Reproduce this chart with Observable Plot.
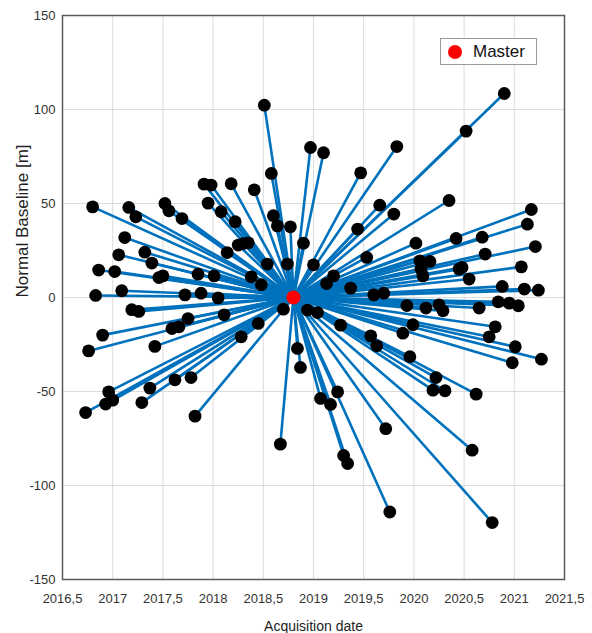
<!DOCTYPE html>
<html>
<head>
<meta charset="utf-8">
<script src="https://cdn.jsdelivr.net/npm/d3@7"></script>
<script src="https://cdn.jsdelivr.net/npm/@observablehq/plot@0.6"></script>
<style>
  html, body { margin: 0; padding: 0; background: #fff; }
  #wrap { position: relative; width: 592px; height: 633px; font-family: "Liberation Sans", Arial, sans-serif; }
  #legend { position: absolute; left: 440px; top: 38px; width: 97px; height: 27px; border: 1px solid #9a9a9a; background: #fff; box-sizing: border-box; }
  #legend .sw { position: absolute; left: 7px; top: 6px; width: 14px; height: 14px; border-radius: 50%; background: #ff0000; }
  #legend .tx { position: absolute; left: 32px; top: 3px; font-size: 17px; color: #111; line-height: 20px; }
</style>
</head>
<body>
<div id="wrap"><div id="legend"><span class="sw"></span><span class="tx">Master</span></div></div>
<script>
// Acquisition dates (decimal years) of slave images
const dates = [
  2016.80, 2017.16, 2017.23, 2017.52, 2017.56, 2017.69, 2017.91, 2017.98, 2017.95, 2018.08,
  2018.18, 2018.22, 2018.41, 2018.51, 2018.58, 2018.60, 2018.64, 2018.77, 2018.25, 2018.30,
  2018.35, 2018.14, 2018.54, 2018.74, 2018.38, 2018.48, 2017.12, 2017.06, 2017.32, 2017.39,
  2016.86, 2017.02, 2017.46, 2017.50, 2017.85, 2018.01, 2016.83, 2017.09, 2017.72, 2017.88,
  2018.05, 2018.70,
  2020.90, 2020.52, 2018.97, 2019.10, 2019.83, 2019.47, 2020.35, 2019.66, 2019.80, 2019.44,
  2021.17, 2021.13, 2021.21, 2020.68, 2020.42, 2020.02, 2020.71, 2021.07, 2018.90, 2019.53,
  2019.00, 2020.06, 2020.16, 2020.07, 2020.09, 2020.45, 2020.48, 2020.55, 2019.20, 2019.13,
  2019.37, 2019.60, 2019.70, 2020.88, 2021.10, 2021.24, 2019.93, 2020.12, 2020.25, 2020.29,
  2020.65, 2020.84, 2020.95, 2021.04, 2018.94, 2019.04,
  2017.19, 2017.26, 2017.75, 2018.11, 2016.90, 2017.59, 2017.66, 2018.45, 2018.28, 2016.76,
  2017.42, 2017.37, 2017.62, 2017.78, 2016.96, 2016.93, 2017.00, 2017.29, 2016.73, 2017.82,
  2018.67,
  2019.27, 2018.84, 2018.87, 2019.57, 2019.63, 2019.89, 2019.99, 2019.96, 2020.81, 2020.75,
  2021.01, 2021.27, 2020.98, 2020.22, 2020.19, 2020.31, 2020.62, 2019.24, 2019.07, 2019.17,
  2019.72, 2019.30, 2019.34, 2020.58, 2019.76, 2020.78
];
// Normal baselines [m] of slave images
const baselines = [
  48.2, 47.9, 42.9, 50.0, 46.1, 42.0, 60.3, 59.8, 50.2, 45.6,
  60.5, 40.3, 57.3, 102.3, 66.0, 43.5, 38.1, 37.6, 27.9, 28.7,
  29.1, 23.9, 17.8, 17.8, 11.0, 6.8, 31.9, 22.7, 24.1, 18.3,
  14.6, 13.8, 10.6, 11.5, 12.4, 11.5, 1.1, 3.6, 1.4, 2.3,
  -0.2, -6.2,
  108.5, 88.5, 79.8, 77.0, 80.3, 66.3, 51.6, 49.1, 44.4, 36.4,
  46.8, 39.0, 27.1, 32.1, 31.4, 28.9, 23.1, 16.3, 28.9, 21.3,
  17.4, 19.5, 19.2, 15.1, 11.5, 15.1, 16.0, 9.8, 11.5, 7.4,
  5.0, 1.4, 2.3, 5.9, 4.5, 3.9, -4.3, -5.6, -3.9, -7.1,
  -5.6, -2.3, -3.0, -4.4, -6.7, -8.0,
  -6.5, -7.4, -11.2, -9.2, -20.0, -16.5, -15.6, -13.8, -20.9, -28.4,
  -26.0, -48.2, -43.8, -42.6, -50.2, -56.7, -54.6, -55.9, -61.2, -63.1,
  -78.0,
  -14.7, -27.1, -37.2, -20.4, -25.7, -19.0, -14.5, -31.5, -15.6, -20.9,
  -26.2, -32.8, -34.7, -42.6, -49.3, -49.6, -51.4, -50.2, -53.7, -56.9,
  -69.8, -84.0, -88.3, -81.2, -114.1, -119.7
];
const masterDate = 2018.80;
const masterBaseline = 0;
const xTicks = [2016.5, 2017, 2017.5, 2018, 2018.5, 2019, 2019.5, 2020, 2020.5, 2021, 2021.5];
const yTicks = [-150, -100, -50, 0, 50, 100, 150];
const xLabel = "Acquisition date";
const yLabel = "Normal Baseline [m]";

const slaves = dates.map((d, i) => ({date: d, baseline: baselines[i]}));
const master = [{date: masterDate, baseline: masterBaseline}];

const chart = Plot.plot({
  width: 592,
  height: 633,
  marginLeft: 62,
  marginRight: 28,
  marginTop: 15,
  marginBottom: 54,
  style: {fontFamily: "Liberation Sans, Arial, sans-serif", fontSize: "13px", color: "#333", background: "#fff"},
  x: {domain: [2016.5, 2021.5]},
  y: {domain: [-150, 150]},
  marks: [
    Plot.gridX(xTicks, {stroke: "#dcdcdc", strokeOpacity: 1, strokeWidth: 1}),
    Plot.gridY(yTicks, {stroke: "#dcdcdc", strokeOpacity: 1, strokeWidth: 1}),
    Plot.link(slaves, {x1: () => masterDate, y1: () => masterBaseline, x2: "date", y2: "baseline", stroke: "#0072BD", strokeWidth: 2.6}),
    Plot.dot(slaves, {x: "date", y: "baseline", r: 6.4, fill: "#000", stroke: "none"}),
    Plot.dot(master, {x: "date", y: "baseline", r: 7, fill: "#ff0000", stroke: "none"}),
    Plot.frame({stroke: "#5a5a5a", strokeWidth: 1.5}),
    Plot.axisX({ticks: xTicks, tickFormat: d => String(d).replace(".", ","), tickSize: 0, tickPadding: 14, fontSize: 13, label: null}),
    Plot.axisY({ticks: yTicks, tickFormat: d => String(d), tickSize: 0, tickPadding: 7, fontSize: 13, label: null}),
    Plot.text([xLabel], {text: d => d, frameAnchor: "bottom", dy: 47, lineAnchor: "middle", fontSize: 14, fill: "#222"}),
    Plot.text([yLabel], {text: d => d, frameAnchor: "left", dx: -40, rotate: -90, lineAnchor: "middle", fontSize: 17, fill: "#222"})
  ]
});
document.getElementById("wrap").prepend(chart);
</script>
</body>
</html>
